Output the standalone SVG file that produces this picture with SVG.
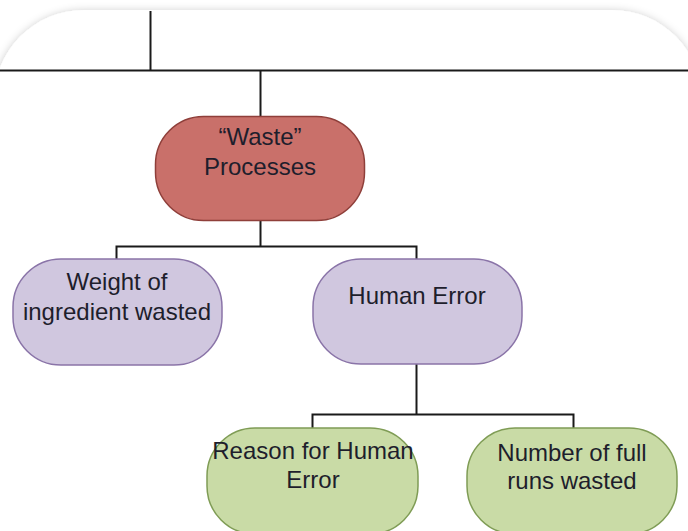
<svg xmlns="http://www.w3.org/2000/svg" width="688" height="531" viewBox="0 0 688 531">
  <defs>
    <filter id="frameShadow" x="-10%" y="-10%" width="120%" height="120%">
      <feGaussianBlur in="SourceAlpha" stdDeviation="4"/>
      <feOffset dx="0" dy="1" result="blur"/>
      <feFlood flood-color="#000" flood-opacity="0.22"/>
      <feComposite in2="blur" operator="in"/>
      <feMerge>
        <feMergeNode/>
        <feMergeNode in="SourceGraphic"/>
      </feMerge>
    </filter>
  </defs>
  <style>
    .lbl { font-family: "Liberation Sans", Arial, sans-serif; font-size: 24px; fill: #1e1e2c; text-anchor: middle; }
    .conn { fill: none; stroke: #1a1a1a; stroke-width: 2; }
    .red { fill: #c9706a; stroke: #8f3f3a; stroke-width: 1.5; }
    .purple { fill: #d0c7df; stroke: #8a74a8; stroke-width: 1.5; }
    .green { fill: #c9dba6; stroke: #7f9c55; stroke-width: 1.5; }
  </style>

  <rect x="0" y="0" width="688" height="531" fill="#ffffff"/>
  <!-- page frame with rounded top corners -->
  <rect x="-6" y="10" width="708" height="700" rx="90" ry="90" fill="#ffffff" filter="url(#frameShadow)"/>

  <g id="connectors">
    <line class="conn" x1="0" y1="70.5" x2="688" y2="70.5"/>
    <line class="conn" x1="150.5" y1="11" x2="150.5" y2="70.5"/>
    <line class="conn" x1="260.5" y1="70.5" x2="260.5" y2="116"/>
    <polyline class="conn" points="260.5,220 260.5,246.5"/>
    <polyline class="conn" points="116.5,259 116.5,246.5 416.5,246.5 416.5,259"/>
    <polyline class="conn" points="416.5,364 416.5,414.5"/>
    <polyline class="conn" points="312.5,428 312.5,414.5 573.5,414.5 573.5,428"/>
  </g>

  <g id="waste-processes">
    <rect class="red" x="155.5" y="116.5" width="209" height="104" rx="48" ry="48"/>
    <text class="lbl" x="260" y="145">“Waste”</text>
    <text class="lbl" x="260" y="175">Processes</text>
  </g>

  <g id="weight-wasted">
    <rect class="purple" x="13" y="259" width="209" height="106" rx="48" ry="48"/>
    <text class="lbl" x="117" y="290">Weight of</text>
    <text class="lbl" x="117" y="320">ingredient wasted</text>
  </g>

  <g id="human-error">
    <rect class="purple" x="313" y="259" width="209" height="105" rx="48" ry="48"/>
    <text class="lbl" x="417" y="304">Human Error</text>
  </g>

  <g id="reason-human-error">
    <rect class="green" x="207" y="428" width="211" height="106" rx="48" ry="48"/>
    <text class="lbl" x="313" y="459">Reason for Human</text>
    <text class="lbl" x="313" y="488">Error</text>
  </g>

  <g id="full-runs-wasted">
    <rect class="green" x="467" y="428" width="210" height="106" rx="48" ry="48"/>
    <text class="lbl" x="572" y="461">Number of full</text>
    <text class="lbl" x="572" y="489">runs wasted</text>
  </g>
</svg>
